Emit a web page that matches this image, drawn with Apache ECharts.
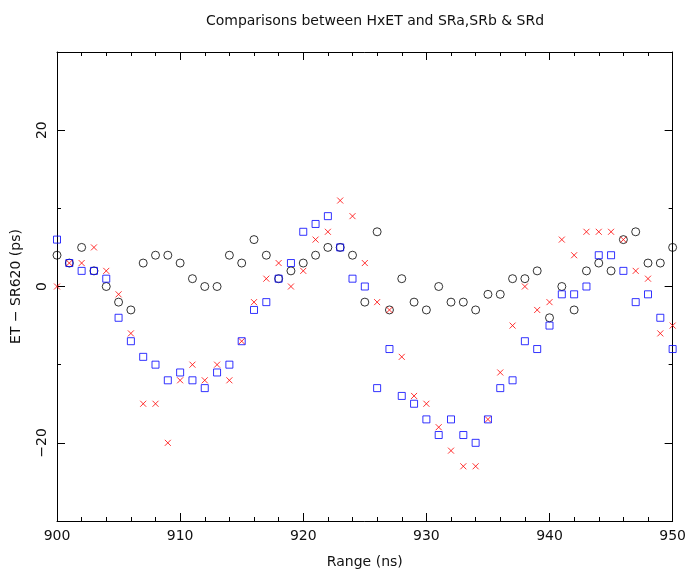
<!DOCTYPE html>
<html>
<head>
<meta charset="utf-8">
<script src="https://cdn.jsdelivr.net/npm/echarts@6/dist/echarts.min.js"></script>
<style>
html,body{margin:0;padding:0;background:#fff;}
#chart{width:689px;height:574px;}
</style>
</head>
<body>
<div id="chart"></div>
<script>
var rangeNs = [900,901,902,903,904,905,906,907,908,909,
               910,911,912,913,914,915,916,917,918,919,
               920,921,922,923,924,925,926,927,928,929,
               930,931,932,933,934,935,936,937,938,939,
               940,941,942,943,944,945,946,947,948,949,950];
var seriesCircle = [4,3,5,2,0,-2,-3,3,4,4,
                    3,1,0,0,4,3,6,4,1,2,
                    3,4,5,5,4,-2,7,-3,1,-2,
                    -3,0,-2,-2,-3,-1,-1,1,1,2,
                    -4,0,-3,2,3,2,6,7,3,3,5];
var seriesCross = [0,3,3,5,2,-1,-6,-15,-15,-20,
                   -12,-10,-12,-10,-12,-7,-2,1,3,0,
                   2,6,7,11,9,3,-2,-3,-9,-14,
                   -15,-18,-21,-23,-23,-17,-11,-5,0,-3,
                   -2,6,4,7,7,7,6,2,1,-6,-5];
var seriesSquare = [6,3,2,2,1,-4,-7,-9,-10,-12,
                    -11,-12,-13,-11,-10,-7,-3,-2,1,3,
                    7,8,9,5,1,0,-13,-8,-14,-15,
                    -17,-19,-17,-19,-20,-17,-13,-12,-7,-8,
                    -5,-1,-1,0,4,4,2,-2,-1,-4,-8];
var yMajorTicks = [-20,0,20];
var yMinorTicks = [-10,10];
var titleText = 'Comparisons between HxET and SRa,SRb & SRd';
var xName = 'Range (ns)';
var yName = 'ET \u2212 SR620 (ps)';

function pairs(vals){ return rangeNs.map(function(x,i){ return [x, vals[i]]; }); }

var FONT = 'DejaVu Sans';
var TXT = '#111';
var lineStyle = {color:'#000', width:1};
function xAx(pos, labels){
  return {
    type:'value', position:pos, min:900, max:950, interval:10,
    axisLine:{show:true, onZero:false, lineStyle:lineStyle},
    axisTick:{show:true, inside:true, length:8, lineStyle:lineStyle},
    minorTick:{show:true, splitNumber:5, length:4, lineStyle:lineStyle},
    splitLine:{show:false},
    axisLabel:{show:labels, color:TXT, fontFamily:FONT, fontSize:14, margin:8},
    name: labels ? xName : '', nameLocation:'middle', nameGap:34,
    nameTextStyle:{color:TXT, fontFamily:FONT, fontSize:14}
  };
}
function yAx(pos, ticks, len, labels, line){
  return {
    type:'value', position:pos, min:-30, max:30,
    axisLine:{show:line, onZero:false, lineStyle:lineStyle},
    axisTick:{show:true, inside:true, length:len, customValues:ticks, lineStyle:lineStyle},
    axisLabel:{show:labels, customValues:ticks, rotate:90, color:TXT, fontFamily:FONT, fontSize:14, margin:8,
               formatter:function(v){ return String(v).replace('-', '\u2212'); }},
    splitLine:{show:false},
    name: labels ? yName : '', nameLocation:'middle', nameGap:34, nameRotate:90,
    nameTextStyle:{color:TXT, fontFamily:FONT, fontSize:14}
  };
}

var chart = echarts.init(document.getElementById('chart'));
chart.setOption({
  animation:false,
  backgroundColor:'#fff',
  title:{text:titleText, left:370, top:9, textAlign:'center',
         textStyle:{color:TXT, fontFamily:FONT, fontSize:14, fontWeight:'normal'}},
  grid:{left:57, right:13, top:52, bottom:51, containLabel:false},
  xAxis:[xAx('bottom', true), xAx('top', false)],
  yAxis:[
    yAx('left', yMajorTicks, 8, true, true),
    yAx('left', yMinorTicks, 4, false, false),
    yAx('right', yMajorTicks, 8, false, true),
    yAx('right', yMinorTicks, 4, false, false)
  ],
  series:[
    {type:'scatter', name:'circle', xAxisIndex:0, yAxisIndex:0, data:pairs(seriesCircle),
     symbol:'circle', symbolSize:8,
     itemStyle:{color:'rgba(0,0,0,0)', borderColor:'#000', borderWidth:1}},
    {type:'scatter', name:'cross', xAxisIndex:0, yAxisIndex:0, data:pairs(seriesCross),
     symbol:'path://M0,0L10,10M10,0L0,10', symbolSize:6,
     itemStyle:{color:'rgba(0,0,0,0)', borderColor:'#ff0000', borderWidth:1}},
    {type:'scatter', name:'square', xAxisIndex:0, yAxisIndex:0, data:pairs(seriesSquare),
     symbol:'rect', symbolSize:7,
     itemStyle:{color:'rgba(0,0,0,0)', borderColor:'#0000ff', borderWidth:1}}
  ]
});
</script>
</body>
</html>
